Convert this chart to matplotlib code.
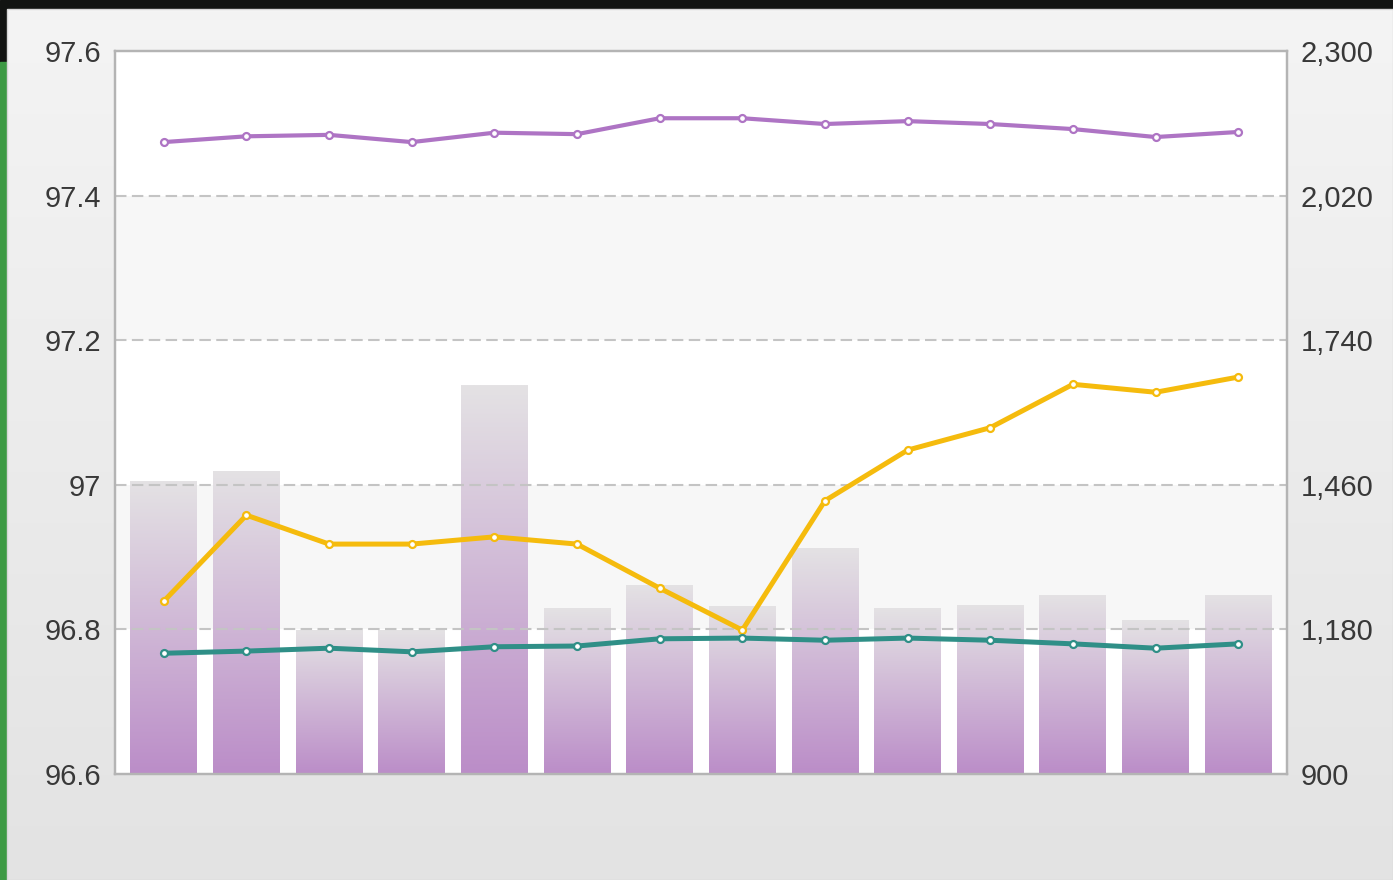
import numpy as np
import matplotlib
matplotlib.use("Agg")
import matplotlib.pyplot as plt
from matplotlib.colors import LinearSegmentedColormap
from matplotlib.patches import Rectangle

# ---- data ----
categories = list(range(1, 15))
bar_values = [1467, 1487, 1178, 1178, 1653, 1221, 1266, 1225, 1338, 1221, 1227, 1247, 1198, 1247]
purple_values = [97.474, 97.482, 97.484, 97.474, 97.487, 97.485, 97.507, 97.507,
                 97.499, 97.503, 97.499, 97.492, 97.481, 97.488]
yellow_values = [96.839, 96.958, 96.918, 96.918, 96.928, 96.918, 96.857, 96.799,
                 96.978, 97.048, 97.079, 97.139, 97.128, 97.149]
teal_values = [96.767, 96.770, 96.774, 96.769, 96.776, 96.777, 96.787, 96.788,
               96.785, 96.788, 96.785, 96.780, 96.774, 96.780]
left_ticks = [96.6, 96.8, 97.0, 97.2, 97.4, 97.6]
left_labels = ["96.6", "96.8", "97", "97.2", "97.4", "97.6"]
right_ticks = [900, 1180, 1460, 1740, 2020, 2300]
right_labels = ["900", "1,180", "1,460", "1,740", "2,020", "2,300"]

W, H = 1393, 880
fig = plt.figure(figsize=(W / 100, H / 100), dpi=100)
plt.rcParams['font.family'] = ['Liberation Sans', 'DejaVu Sans']

# ---- figure background ----
bg = fig.add_axes([0, 0, 1, 1], zorder=-10)
bg.set_xlim(0, W)
bg.set_ylim(H, 0)
bg.axis('off')
bg.add_patch(Rectangle((0, 0), W, H, color='#121412'))
bg.add_patch(Rectangle((0, 62), 7, H - 62, color='#3d9a44'))
grad = np.linspace(0, 1, 256).reshape(-1, 1)
panel_cmap = LinearSegmentedColormap.from_list('p', ['#f4f4f4', '#e3e3e3'])
bg.imshow(grad, extent=(7, W, H, 9), cmap=panel_cmap, aspect='auto', origin='upper', zorder=1)
bg.add_patch(Rectangle((7, 9), W - 7, H - 9, fill=False, edgecolor='#d6d6d6', lw=1, zorder=2))

# ---- plot axes ----
x0, x1, y0, y1 = 115, 1287, 51, 774
rect = [x0 / W, 1 - y1 / H, (x1 - x0) / W, (y1 - y0) / H]
axb = fig.add_axes(rect)
axl = axb.twinx()

x = np.arange(len(categories))
xlim = (-0.59, len(categories) - 1 + 0.59)

# bands
axb.set_facecolor('white')
axb.set_ylim(right_ticks[0], right_ticks[-1])
for i in range(len(right_ticks) - 1):
    if i % 2 == 1:
        axb.axhspan(right_ticks[i], right_ticks[i + 1], color='#f7f7f7', zorder=0, lw=0)

# bars with per-bar vertical gradient
bar_cmap = LinearSegmentedColormap.from_list('b', ['#e4e2e4', '#bb8dc8'])
bw = 0.81
bars = axb.bar(x, [v - right_ticks[0] for v in bar_values], width=bw, bottom=right_ticks[0],
               color='none', edgecolor='none', zorder=1)
for b, xi, v in zip(bars, x, bar_values):
    im = axb.imshow(grad, extent=(xi - bw / 2, xi + bw / 2, right_ticks[0], v),
                    cmap=bar_cmap, aspect='auto', origin='upper', zorder=1)
    im.set_clip_path(b)

# dashed gridlines
for t in right_ticks[1:-1]:
    axb.axhline(t, color='#c4c4c4', lw=1.5, linestyle=(0, (5.5, 2.6)), zorder=2)

axb.set_xlim(*xlim)
axb.set_ylim(right_ticks[0], right_ticks[-1])
axb.set_yticks(right_ticks)
axb.set_yticklabels(right_labels)
axb.yaxis.tick_right()
axb.set_xticks([])

# lines on left scale
axl.yaxis.tick_left()
axl.yaxis.set_label_position('left')
axl.set_ylim(left_ticks[0], left_ticks[-1])
axl.set_yticks(left_ticks)
axl.set_yticklabels(left_labels)
axl.set_xlim(*xlim)
for vals, col, lw in [(purple_values, '#ae74c4', 3.0),
                      (yellow_values, '#f5bb0d', 3.6),
                      (teal_values, '#2f8f87', 3.6)]:
    axl.plot(x, vals, color=col, lw=lw, marker='o', markersize=5,
             markerfacecolor='white', markeredgecolor=col, markeredgewidth=1.6,
             solid_joinstyle='round', zorder=3)

for a in (axb, axl):
    for s in a.spines.values():
        s.set_color('#b4b4b4')
        s.set_linewidth(1.6)
    a.tick_params(axis='y', length=0, pad=10, labelsize=21, labelcolor='#383838')

fig.savefig('out.png', dpi=100)
